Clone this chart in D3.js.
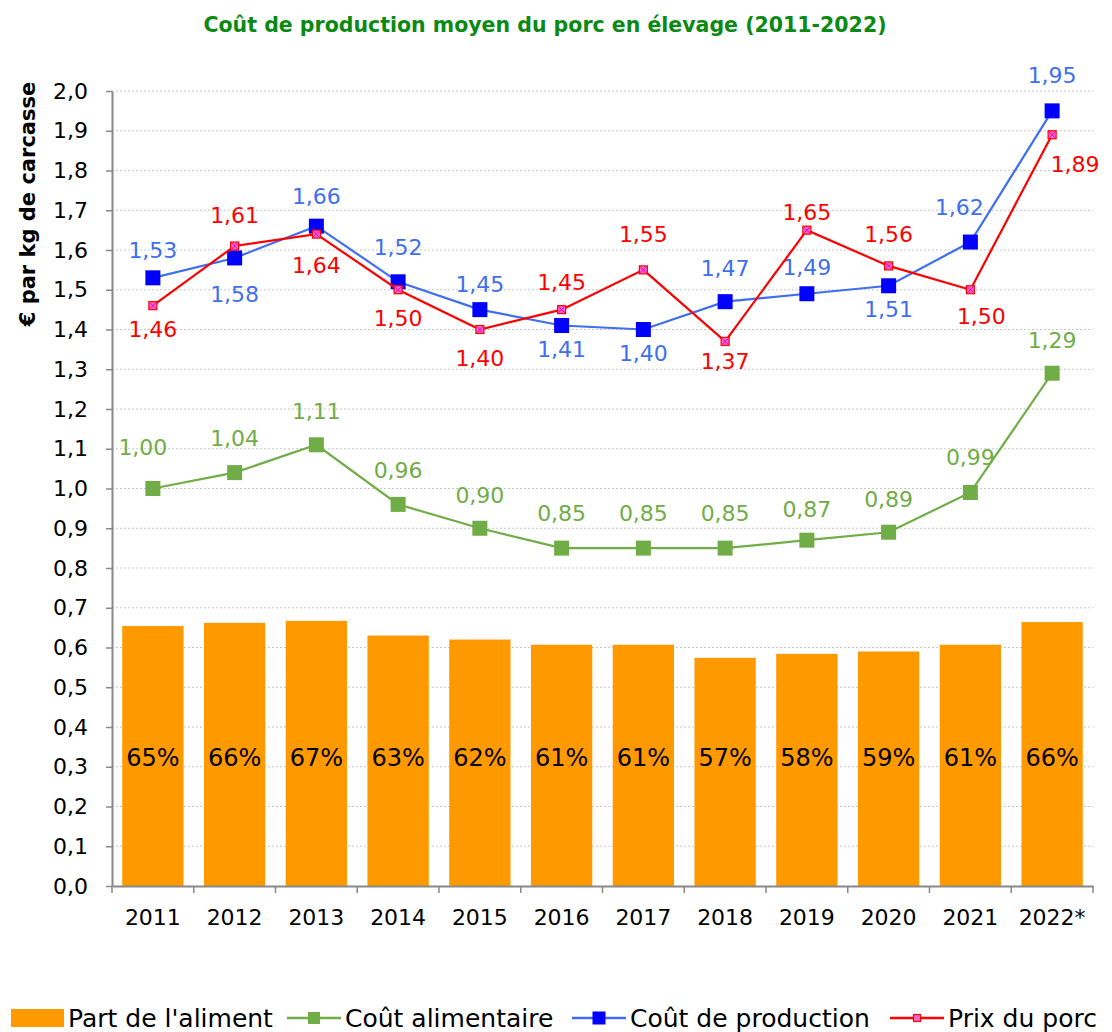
<!DOCTYPE html>
<html>
<head>
  <meta charset="utf-8">
  <script src="https://d3js.org/d3.v7.min.js"></script>
  <style>
    body { margin: 0; background: #fff; }
    svg text { font-family: "DejaVu Sans", "Noto Sans", sans-serif; }
  </style>
</head>
<body>
  <svg width="1112" height="1032"></svg>
  <script>
    const years = ["2011", "2012", "2013", "2014", "2015", "2016", "2017", "2018", "2019", "2020", "2021", "2022*"];
    const partAliment = [0.654, 0.662, 0.667, 0.630, 0.620, 0.607, 0.607, 0.574, 0.584, 0.590, 0.607, 0.664];
    const coutAlimentaire = [1.00, 1.04, 1.11, 0.96, 0.90, 0.85, 0.85, 0.85, 0.87, 0.89, 0.99, 1.29];
    const coutProduction = [1.53, 1.58, 1.66, 1.52, 1.45, 1.41, 1.40, 1.47, 1.49, 1.51, 1.62, 1.95];
    const prixPorc = [1.46, 1.61, 1.64, 1.50, 1.40, 1.45, 1.55, 1.37, 1.65, 1.56, 1.50, 1.89];
    const yTicks = d3.range(0, 21).map(i => i / 10);

    // label offsets from the marker (pixels), labels were placed by hand in the original
    const alimDx = [-10, 0, 0, 0, 0, 0, 0, 0, 0, 0, 0, 0];
    const alimDy = [-42, -35, -34, -34, -33, -35, -35, -35, -31, -33, -35, -33];
    const prodDx = [0, 0, 0, 0, 0, 0, 0, 0, 0, 0, -11, 0];
    const prodDy = [-28, 36, -30, -35, -26, 23, 23, -34, -27, 23, -35, -36];
    const prixDx = [0, 0, 0, 0, 0, 0, 0, 0, 0, 0, 11, 23];
    const prixDy = [23, -31, 31, 28, 28, -28, -36, 20, -18, -32, 26, 29];

    const svg = d3.select("svg");
    const margin = { left: 112, right: 1093, top: 91, bottom: 886 };

    const x = d3.scaleBand().domain(years).range([margin.left, margin.right]).paddingInner(0.25).paddingOuter(0.125);
    const y = d3.scaleLinear().domain([0, 2]).range([margin.bottom, margin.top]);
    const fmt = v => d3.format(".2f")(v).replace(".", ",");
    const cx = d => x(d) + x.bandwidth() / 2;

    // title
    svg.append("text")
      .attr("x", 545).attr("y", 32)
      .attr("text-anchor", "middle")
      .attr("fill", "#0a8a12")
      .attr("font-weight", "bold")
      .attr("font-size", 20.5)
      .text("Coût de production moyen du porc en élevage (2011-2022)");

    // gridlines
    svg.append("g")
      .selectAll("line")
      .data(yTicks.filter(t => t > 0))
      .join("line")
      .attr("x1", margin.left).attr("x2", margin.right)
      .attr("y1", d => y(d)).attr("y2", d => y(d))
      .attr("stroke", "#c8c8c8")
      .attr("stroke-dasharray", "2,2");

    // bars
    svg.append("g")
      .selectAll("rect")
      .data(years)
      .join("rect")
      .attr("x", d => x(d))
      .attr("width", x.bandwidth())
      .attr("y", (d, i) => y(partAliment[i]))
      .attr("height", (d, i) => y(0) - y(partAliment[i]))
      .attr("fill", "#ff9900");

    svg.append("g")
      .selectAll("text")
      .data(years)
      .join("text")
      .attr("x", d => cx(d))
      .attr("y", 766)
      .attr("text-anchor", "middle")
      .attr("font-size", 24)
      .attr("fill", "#000")
      .text((d, i) => Math.round(partAliment[i] * 100) + "%");

    // y axis
    const yAxis = svg.append("g")
      .attr("transform", `translate(${margin.left},0)`)
      .call(d3.axisLeft(y).tickValues(yTicks).tickSize(6).tickSizeOuter(0).tickFormat(d => d3.format(".1f")(d).replace(".", ",")));
    yAxis.select(".domain").attr("stroke", "#888").attr("stroke-width", 2);
    yAxis.selectAll(".tick line").attr("stroke", "#888").attr("stroke-width", 1.5);
    yAxis.selectAll(".tick text").attr("font-size", 22).attr("fill", "#000").attr("x", -24)
      .style("font-family", "'DejaVu Sans', sans-serif");

    // x axis
    const xAxis = svg.append("g")
      .attr("transform", `translate(0,${margin.bottom})`)
      .call(d3.axisBottom(x).tickSize(0).tickPadding(23));
    xAxis.select(".domain").attr("stroke", "#888").attr("stroke-width", 2);
    xAxis.selectAll(".tick text").attr("font-size", 22).attr("fill", "#000")
      .style("font-family", "'DejaVu Sans', sans-serif");
    // category boundary ticks
    svg.append("g")
      .selectAll("line")
      .data(d3.range(years.length + 1))
      .join("line")
      .attr("x1", i => margin.left + i * x.step())
      .attr("x2", i => margin.left + i * x.step())
      .attr("y1", margin.bottom).attr("y2", margin.bottom + 7)
      .attr("stroke", "#888").attr("stroke-width", 1.5);

    // y title
    svg.append("text")
      .attr("transform", "translate(35,204) rotate(-90)")
      .attr("text-anchor", "middle")
      .attr("font-weight", "bold")
      .attr("font-size", 21)
      .attr("fill", "#000")
      .text("€ par kg de carcasse");

    const line = d3.line().x((d, i) => cx(years[i])).y(d => y(d));

    function drawSeries(values, lineColor, markerFill, markerStroke, size, labelColor, dx, dy, cross) {
      const g = svg.append("g");
      g.append("path")
        .datum(values)
        .attr("d", line)
        .attr("fill", "none")
        .attr("stroke", lineColor)
        .attr("stroke-width", 2.2);
      g.selectAll("rect")
        .data(values)
        .join("rect")
        .attr("x", (d, i) => cx(years[i]) - size / 2)
        .attr("y", d => y(d) - size / 2)
        .attr("width", size).attr("height", size)
        .attr("fill", markerFill)
        .attr("stroke", markerStroke)
        .attr("stroke-width", markerStroke === "none" ? 0 : 1.2);
      if (cross) {
        g.selectAll("path.x")
          .data(values)
          .join("path")
          .attr("class", "x")
          .attr("d", (d, i) => {
            const px = cx(years[i]), py = y(d), h = size / 2 - 1;
            return `M${px - h},${py - h}L${px + h},${py + h}M${px - h},${py + h}L${px + h},${py - h}`;
          })
          .attr("stroke", cross).attr("stroke-width", 1);
      }
      g.selectAll("text")
        .data(values)
        .join("text")
        .attr("x", (d, i) => cx(years[i]) + dx[i])
        .attr("y", (d, i) => y(d) + dy[i] + 8)
        .attr("text-anchor", "middle")
        .attr("font-size", 22)
        .attr("fill", labelColor)
        .text(d => fmt(d));
      return g;
    }

    drawSeries(coutAlimentaire, "#70ad47", "#70ad47", "none", 15, "#70ad47", alimDx, alimDy);
    drawSeries(coutProduction, "#3f6ff0", "#0000ff", "none", 15, "#3f6ff0", prodDx, prodDy);
    drawSeries(prixPorc, "#ff0000", "#ff66cc", "#ff0000", 8, "#ff0000", prixDx, prixDy, "#e000c0");

    // legend
    const leg = svg.append("g").attr("transform", "translate(0,1018)");
    leg.append("rect").attr("x", 11).attr("y", -9).attr("width", 53).attr("height", 18).attr("fill", "#ff9900");
    leg.append("text").attr("x", 68).attr("y", 9).attr("font-size", 25).text("Part de l'aliment");

    function legLine(x0, color, mfill, mstroke, size, label) {
      leg.append("line").attr("x1", x0).attr("x2", x0 + 54).attr("y1", 0).attr("y2", 0)
        .attr("stroke", color).attr("stroke-width", 2.5);
      leg.append("rect").attr("x", x0 + 27 - size / 2).attr("y", -size / 2).attr("width", size).attr("height", size)
        .attr("fill", mfill).attr("stroke", mstroke).attr("stroke-width", mstroke === "none" ? 0 : 1.2);
      leg.append("text").attr("x", x0 + 58).attr("y", 9).attr("font-size", 25).text(label);
    }
    legLine(287, "#70ad47", "#70ad47", "none", 12, "Coût alimentaire");
    legLine(572, "#3f6ff0", "#0000ff", "none", 13, "Coût de production");
    legLine(890, "#ff0000", "#ff66cc", "#ff0000", 7, "Prix du porc");
  </script>
</body>
</html>
